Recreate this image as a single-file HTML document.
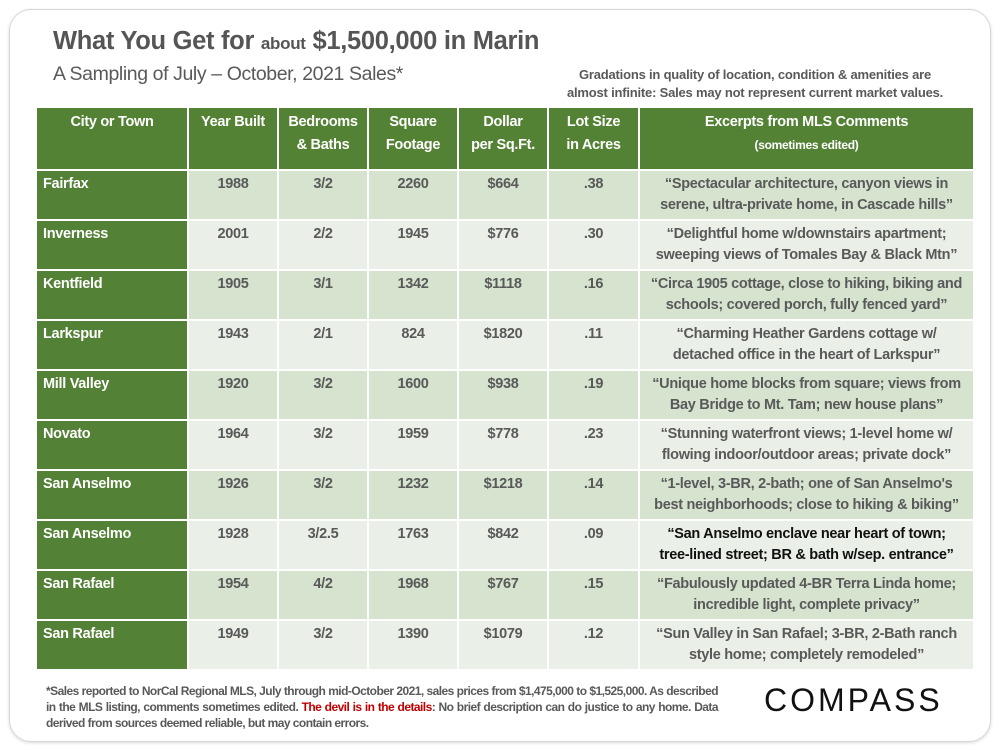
<!DOCTYPE html>
<html><head><meta charset="utf-8"><style>
body{margin:0;width:1000px;height:750px;background:#fff;font-family:"Liberation Sans",sans-serif;position:relative;overflow:hidden}
.card{position:absolute;left:9px;top:9px;width:980px;height:731px;border:1px solid #d6d6d6;border-radius:22px;box-shadow:0 1px 3px rgba(0,0,0,.15)}
.title{position:absolute;left:53px;top:27px;font-size:25.5px;font-weight:bold;color:#555;letter-spacing:-0.3px;white-space:nowrap}
.title small{font-size:17px}
.sub{position:absolute;left:53px;top:63px;font-size:19.5px;color:#595959;white-space:nowrap;letter-spacing:-0.4px}
.note{position:absolute;left:545px;top:66px;width:420px;text-align:center;font-size:13px;font-weight:bold;color:#595959;line-height:18px;letter-spacing:-0.2px}
table{position:absolute;left:35px;top:106px;border-collapse:separate;border-spacing:2px;width:940px}
td{font-size:14.5px;font-weight:bold;color:#595959;text-align:center;vertical-align:top;padding:3px 0 0;line-height:21px;height:45px;letter-spacing:-0.3px}
td:last-child{padding-left:8px;padding-right:8px}
th{background:#548235;color:#fff;font-size:14.5px;font-weight:bold;vertical-align:top;padding:3px 0 0;height:58px;line-height:23px;letter-spacing:-0.3px}
th small{font-size:12px}
td.c{background:#538135;color:#fff;text-align:left;padding-left:6px}
tr.o td{background:#d5e3cf}
tr.e td{background:#eaefe7}
tr td.c{background:#538135}
.foot{position:absolute;left:46px;top:683px;width:672px;font-size:12px;font-weight:bold;color:#595959;line-height:16px;text-align:justify;letter-spacing:-0.55px}
.foot span{color:#c00000}
.logo{position:absolute;left:764px;top:682px;font-size:32px;letter-spacing:3px;color:#111}
</style></head><body>
<div class="card"></div>
<div class="title">What You Get for <small>about</small> $1,500,000 in Marin</div>
<div class="sub">A Sampling of July – October, 2021 Sales*</div>
<div class="note">Gradations in quality of location, condition &amp; amenities are<br>almost infinite: Sales may not represent current market values.</div>
<table>
<colgroup><col style="width:150px"><col style="width:88px"><col style="width:88px"><col style="width:88px"><col style="width:88px"><col style="width:89px"><col></colgroup>
<tr><th>City or Town</th><th>Year Built</th><th>Bedrooms<br>&amp; Baths</th><th>Square<br>Footage</th><th>Dollar<br>per Sq.Ft.</th><th>Lot Size<br>in Acres</th><th>Excerpts from MLS Comments<br><small>(sometimes edited)</small></th></tr>
<tr class="o"><td class="c">Fairfax</td><td>1988</td><td>3/2</td><td>2260</td><td>$664</td><td>.38</td><td>“Spectacular architecture, canyon views in<br>serene, ultra-private home, in Cascade hills”</td></tr>
<tr class="e"><td class="c">Inverness</td><td>2001</td><td>2/2</td><td>1945</td><td>$776</td><td>.30</td><td>“Delightful home w/downstairs apartment;<br>sweeping views of Tomales Bay &amp; Black Mtn”</td></tr>
<tr class="o"><td class="c">Kentfield</td><td>1905</td><td>3/1</td><td>1342</td><td>$1118</td><td>.16</td><td>“Circa 1905 cottage, close to hiking, biking and<br>schools; covered porch, fully fenced yard”</td></tr>
<tr class="e"><td class="c">Larkspur</td><td>1943</td><td>2/1</td><td>824</td><td>$1820</td><td>.11</td><td>“Charming Heather Gardens cottage w/<br>detached office in the heart of Larkspur”</td></tr>
<tr class="o"><td class="c">Mill Valley</td><td>1920</td><td>3/2</td><td>1600</td><td>$938</td><td>.19</td><td>“Unique home blocks from square; views from<br>Bay Bridge to Mt. Tam; new house plans”</td></tr>
<tr class="e"><td class="c">Novato</td><td>1964</td><td>3/2</td><td>1959</td><td>$778</td><td>.23</td><td>“Stunning waterfront views; 1-level home w/<br>flowing indoor/outdoor areas; private dock”</td></tr>
<tr class="o"><td class="c">San Anselmo</td><td>1926</td><td>3/2</td><td>1232</td><td>$1218</td><td>.14</td><td>“1-level, 3-BR, 2-bath; one of San Anselmo's<br>best neighborhoods; close to hiking &amp; biking”</td></tr>
<tr class="e"><td class="c">San Anselmo</td><td>1928</td><td>3/2.5</td><td>1763</td><td>$842</td><td>.09</td><td style="color:#111">“San Anselmo enclave near heart of town;<br>tree-lined street; BR &amp; bath w/sep. entrance”</td></tr>
<tr class="o"><td class="c">San Rafael</td><td>1954</td><td>4/2</td><td>1968</td><td>$767</td><td>.15</td><td>“Fabulously updated 4-BR Terra Linda home;<br>incredible light, complete privacy”</td></tr>
<tr class="e"><td class="c">San Rafael</td><td>1949</td><td>3/2</td><td>1390</td><td>$1079</td><td>.12</td><td>“Sun Valley in San Rafael; 3-BR, 2-Bath ranch<br>style home; completely remodeled”</td></tr>
</table>
<div class="foot">*Sales reported to NorCal Regional MLS, July through mid-October 2021, sales prices from $1,475,000 to $1,525,000. As described in the MLS listing, comments sometimes edited. <span>The devil is in the details</span>: No brief description can do justice to any home. Data derived from sources deemed reliable, but may contain errors.</div>
<div class="logo">COMPASS</div>
</body></html>
